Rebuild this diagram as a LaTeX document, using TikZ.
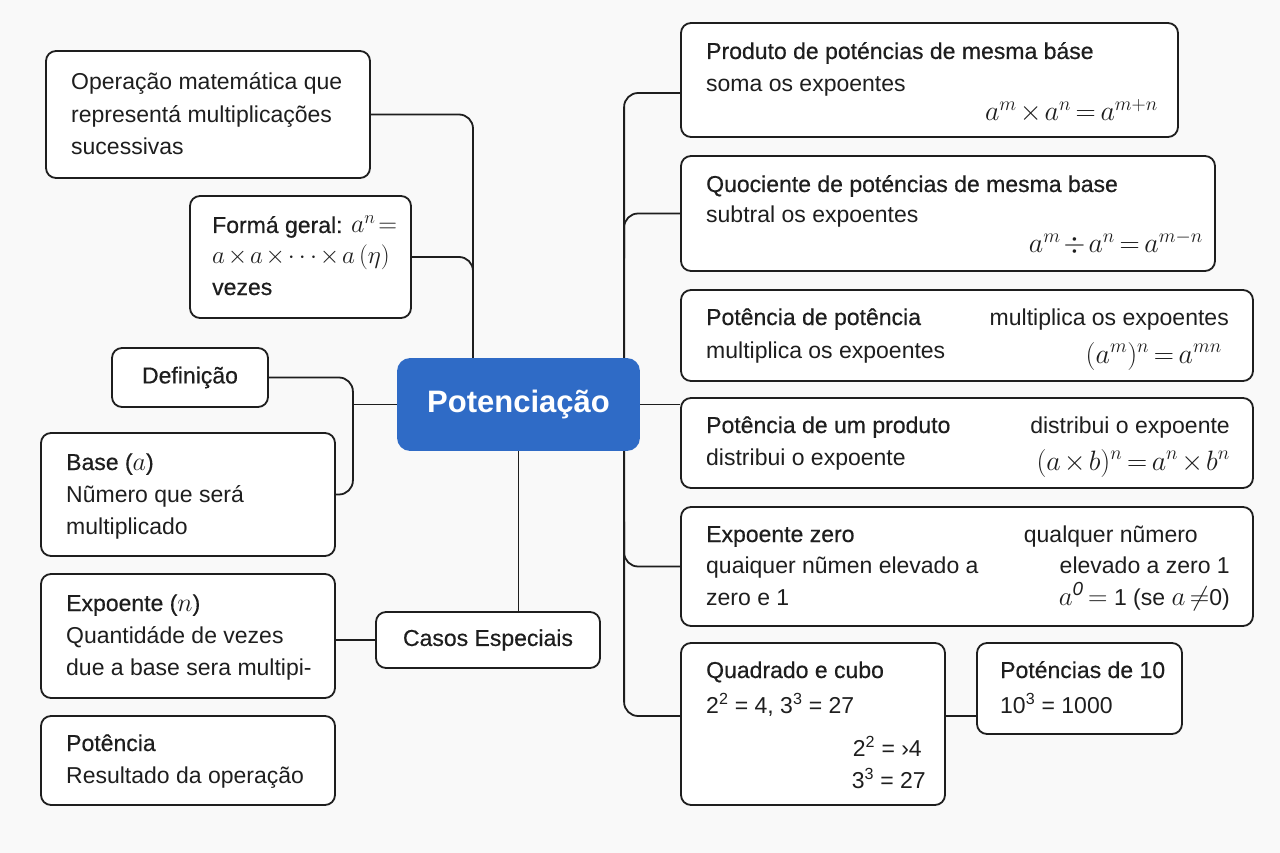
\RequirePackage{fix-cm}
\documentclass[tikz,border=0pt]{standalone}
\usepackage{fontspec}
\setmainfont{Liberation Sans}
\newfontfamily\medfont[FakeBold=0.5]{Liberation Sans}
\usetikzlibrary{calc}
\definecolor{ink}{HTML}{1E1E1E}
\definecolor{bluebox}{HTML}{2F6BC6}
\definecolor{bgc}{HTML}{F9F9F9}
\pgfdeclarelayer{back}
\pgfsetlayers{back,main}
\newcommand{\tightmath}{\medmuskip=2mu\thickmuskip=3mu}
\begin{document}
\begin{tikzpicture}[x=1pt,y=-1pt,
  box/.style={draw=ink, line width=1.8pt, rounded corners=10pt, fill=white, inner sep=0pt},
  conn/.style={draw=ink, line width=1.8pt, rounded corners=14pt},
  txt/.style={anchor=base west, inner sep=0pt, text=ink, font=\fontsize{23}{27}\selectfont},
  hd/.style={anchor=base west, inner sep=0pt, text=ink, font=\medfont\fontsize{23}{27}\selectfont},
  rtxt/.style={anchor=base east, inner sep=0pt, text=ink, font=\fontsize{23}{27}\selectfont},
  mth/.style={anchor=base east, inner sep=0pt, text=ink, font=\fontsize{28}{32}\selectfont\tightmath},
]
\useasboundingbox (0,0) rectangle (1280,853);
\begin{pgfonlayer}{back}
\fill[bgc] (0,0) rectangle (1280,853);
\end{pgfonlayer}

% ---------- boxes ----------
\node[box, minimum width=324pt, minimum height=127pt] (op) at (208,114.5) {};
\node[box, minimum width=221pt, minimum height=122pt] (fg) at (300.5,257) {};
\node[box, minimum width=156pt, minimum height=59pt, font=\medfont\fontsize{23}{27}\selectfont, text=ink] (def) at (190,377.5) {Definição};
\node[box, minimum width=294pt, minimum height=123pt] (base) at (188,494.5) {};
\node[box, minimum width=294pt, minimum height=124pt] (expo) at (188,636) {};
\node[box, minimum width=294pt, minimum height=89pt] (pot) at (188,760.5) {};
\node[box, minimum width=241pt, minimum height=91pt, fill=bluebox, draw=bluebox, rounded corners=12pt,
      text=white, font=\bfseries\fontsize{31}{36}\selectfont] (cent) at (518.5,404.5) {Potenciação};
\node[box, minimum width=224pt, minimum height=56pt, font=\medfont\fontsize{23}{27}\selectfont, text=ink] (casos) at (488,640) {Casos Especiais};
\node[box, minimum width=497pt, minimum height=114pt] (prod) at (929.5,80) {};
\node[box, minimum width=534pt, minimum height=115pt] (quoc) at (948,213.5) {};
\node[box, minimum width=572pt, minimum height=91pt] (ppot) at (967,335.5) {};
\node[box, minimum width=572pt, minimum height=90pt] (pprod) at (967,443) {};
\node[box, minimum width=572pt, minimum height=119pt] (ez) at (967,566.5) {};
\node[box, minimum width=264pt, minimum height=162pt] (quad) at (813,724) {};
\node[box, minimum width=205pt, minimum height=91pt] (p10) at (1079.5,688.5) {};

% ---------- connectors ----------
\coordinate (lt) at (473,359);
\coordinate (dx) at (352,400);
\begin{pgfonlayer}{back}
\draw[conn] (op.east) -| (lt);
\draw[conn] (fg.east) -| (lt);
\draw[conn] (def.east) -| ($(base.east)+(17,0)$) -- (base.east);
\draw[conn] (cent.west) -- (cent.west -| dx);
\draw[conn] (cent.south) -- (cent.south |- casos.north);
\draw[conn] (casos.west) -- (casos.west -| expo.east);
\draw[conn] ($(prod.west)+(0,13)$) -| ($(quad.west)+(-56,-8)$) -- ($(quad.west)+(0,-8)$);
\draw[conn] (quoc.west) -| ($(quoc.west)+(-56,45)$);
\draw[conn] (ez.west) -| ($(ez.west)+(-56,-45)$);
\draw[conn] (cent.east) -- (cent.east -| pprod.west);
\draw[conn] (quad.east |- 0,716) -- (p10.west |- 0,716);
\end{pgfonlayer}

% ---------- texts: left ----------
\node[txt] (op1) at (71,90) {Operação matemática que};
\node[txt] (op2) at (71,123) {representá multiplicações};
\node[txt] (op3) at (71,155) {sucessivas};

\node[hd] (fg1) at (212,233) {Formá geral: {\fontsize{26}{30}\selectfont$a^n\!=$}};
\node[txt, font=\fontsize{25}{29}\selectfont\tightmath] (fg2) at (212,263) {$a\times a\times\cdots\times a\,(\eta)$};
\node[hd] (fg3) at (212,295) {vezes};

\node[hd] (b1) at (66,470) {Base ({\fontsize{26}{30}\selectfont$a$})};
\node[txt] (b2) at (66,502) {Nũmero que será};
\node[txt] (b3) at (66,534) {multiplicado};

\node[hd] (e1) at (66,611) {Expoente ({\fontsize{26}{30}\selectfont$n$})};
\node[txt] (e2) at (66,643) {Quantidáde de vezes};
\node[txt] (e3) at (66,675) {due a base sera multipi-};

\node[hd] (p1) at (66,751) {Potência};
\node[txt] (p2) at (66,783) {Resultado da operação};

% ---------- texts: right ----------
\node[hd] (pr1) at (706,59) {Produto de poténcias de mesma báse};
\node[txt] (pr2) at (706,92) {soma os expoentes};
\node[mth] (pr3) at (1158,121) {$a^m\times a^n=a^{m+n}$};

\node[hd] (q1) at (706,192) {Quociente de poténcias de mesma base};
\node[txt] (q2) at (706,223) {subtral os expoentes};
\node[mth] (q3) at (1203,253) {$a^m\div a^n=a^{m-n}$};

\node[hd] (pp1) at (706,325) {Potência de potência};
\node[txt] (pp2) at (706,358) {multiplica os expoentes};
\node[rtxt] (pp3) at (1229,325) {multiplica os expoentes};
\node[mth] (pp4) at (1222,363) {$(a^m)^n=a^{mn}$};

\node[hd] (pd1) at (706,433) {Potência de um produto};
\node[txt] (pd2) at (706,465) {distribui o expoente};
\node[rtxt] (pd3) at (1230,433) {distribui o expoente};
\node[mth] (pd4) at (1230,470) {$(a\times b)^n=a^n\times b^n$};

\node[hd] (z1) at (706,542) {Expoente zero};
\node[txt] (z2) at (706,573) {quaiquer nũmen elevado a};
\node[txt] (z3) at (706,605) {zero e 1};
\node[rtxt] (z4) at (1198,542) {qualquer nũmero};
\node[rtxt] (z5) at (1230,573) {elevado a zero 1};
\node[rtxt] (z6) at (1230,605) {{\fontsize{27}{30}\selectfont\tightmath$a^{\mathit{0}}=$} 1 (se {\fontsize{27}{30}\selectfont\tightmath$a\neq$}0)};

\node[hd] (c1) at (706,678) {Quadrado e cubo};
\node[txt] (c2) at (706,713) {2\textsuperscript{2} = 4, 3\textsuperscript{3} = 27};
\node[rtxt] (c3) at (922,756) {2\textsuperscript{2} = ›4};
\node[rtxt] (c4) at (926,788) {3\textsuperscript{3} = 27};

\node[hd] (t1) at (1000,678) {Poténcias de 10};
\node[txt] (t2) at (1000,713) {10\textsuperscript{3} = 1000};
\end{tikzpicture}
\end{document}
